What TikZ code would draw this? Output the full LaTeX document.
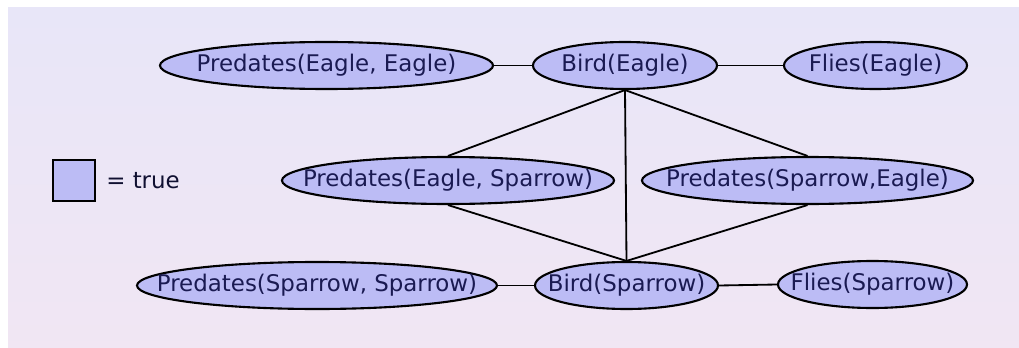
\documentclass[tikz,border=0pt]{standalone}
\usepackage{fontspec}
\setmainfont{DejaVu Sans}
\usetikzlibrary{shapes.geometric}
\definecolor{atomFill}{HTML}{BCBCF5}
\definecolor{atomText}{HTML}{1A1A52}
\definecolor{bgTop}{HTML}{E8E6F8}
\definecolor{bgBottom}{HTML}{F1E6F3}
% label centred on a zero-width box, so the ellipse size comes from the style only
\newcommand{\atomlabel}[1]{\makebox[0pt]{#1}}

\begin{document}
\begin{tikzpicture}[x=0.025cm,y=-0.025cm,
  font=\fontsize{16.3}{19}\selectfont,
  atom/.style={ellipse,draw=black,line width=1.5pt,fill=atomFill,text=atomText,
               inner sep=0pt,minimum height=47*0.025cm,minimum width=#1*0.025cm},
  key/.style={draw=black,line width=1.5pt,fill=atomFill,inner sep=0pt,
              minimum width=42*0.025cm,minimum height=41*0.025cm},
  link/.style={draw=black,line width=1.3pt}]

\useasboundingbox (0,0) rectangle (1019,348);
\shade[top color=bgTop,bottom color=bgBottom] (8,8) rectangle (1030,360);

% ground atoms
\node[atom=333] (pee) at (326.5, 65.5) {\atomlabel{Predates(Eagle, Eagle)}};
\node[atom=184] (be)  at (625,   65.5) {\atomlabel{Bird(Eagle)}};
\node[atom=183] (fe)  at (875.5, 65.5) {\atomlabel{Flies(Eagle)}};
\node[atom=332] (pes) at (448,  180.5) {\atomlabel{Predates(Eagle, Sparrow)}};
\node[atom=331] (pse) at (807.5,180.5) {\atomlabel{Predates(Sparrow,Eagle)}};
\node[atom=360] (pss) at (317,  285.5) {\atomlabel{Predates(Sparrow, Sparrow)}};
\node[atom=183] (bs)  at (626.5,285.5) {\atomlabel{Bird(Sparrow)}};
\node[atom=189] (fs)  at (872.5,284.5) {\atomlabel{Flies(Sparrow)}};

% legend
\node[key] (sq) at (74,180.5) {};
\node[anchor=west,inner sep=0pt,text=atomText!60!black] (truelbl) at (106,180.5) {= true};

% links
\draw[link] (pee.east) -- (be.west);
\draw[link] (be.east) -- (fe.west);
\draw[link] (pss.east) -- (bs.west);
\draw[link] (bs.east) -- (fs.west);
\draw[link] (be.south) -- (pes.north);
\draw[link] (be.south) -- (pse.north);
\draw[link] (be.south) -- (bs.north);
\draw[link] (pes.south) -- (bs.north);
\draw[link] (pse.south) -- (bs.north);
\end{tikzpicture}
\end{document}
